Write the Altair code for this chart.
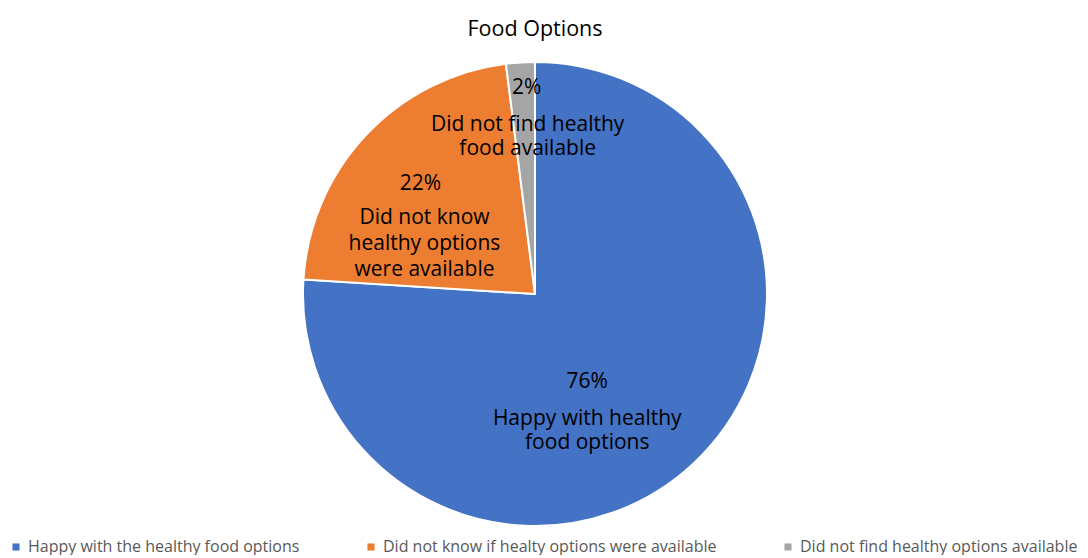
import altair as alt
import pandas as pd

categories = [
    "Happy with the healthy food options",
    "Did not know if healty options were available",
    "Did not find healthy options available",
]
values = [76, 22, 2]
pct_labels = ["76%", "22%", "2%"]
slice_labels = [
    ["Happy with healthy", "food options"],
    ["Did not know", "healthy options", "were available"],
    ["Did not find healthy", "food available"],
]
colors = ["#4472C4", "#ED7D31", "#A5A5A5"]

df = pd.DataFrame({
    "category": categories,
    "value": values,
    "pct": pct_labels,
    "label": slice_labels,
    "order": [0, 1, 2],
})

CX, CY, R = 527, 246, 232
FONT = "Open Sans"
THETA_SCALE = alt.Scale(domain=[0, 100])

base = alt.Chart(df).transform_window(
    end="sum(value)", sort=[alt.SortField("order")],
).transform_calculate(
    start="datum.end - datum.value",
    mid="datum.end - datum.value / 2",
)

pie = base.mark_arc(outerRadius=R, stroke="white", strokeWidth=2).encode(
    x=alt.value(CX), y=alt.value(CY),
    theta=alt.Theta("start:Q", scale=THETA_SCALE),
    theta2="end:Q",
    color=alt.Color(
        "category:N",
        scale=alt.Scale(domain=categories, range=colors),
        sort=categories,
        legend=alt.Legend(
            title=None, orient="none", direction="horizontal",
            legendX=0, legendY=491, padding=0,
            symbolType="square", symbolSize=50, symbolStrokeWidth=0,
            labelFont=FONT, labelFontSize=16, labelColor="#595959",
            columnPadding=63, labelLimit=500,
        ),
    ),
)

def layer(cat, r, dx_pct, dy_pct, dx_lab, dy_lab, lh):
    b = base.transform_filter(alt.datum.category == cat)
    p = b.mark_text(radius=r, font=FONT, fontSize=21, color="#000000",
                    dx=dx_pct, dy=dy_pct).encode(
        x=alt.value(CX), y=alt.value(CY),
        theta=alt.Theta("mid:Q", scale=THETA_SCALE), text="pct:N")
    t = b.mark_text(radius=r, font=FONT, fontSize=21, color="#000000",
                    dx=dx_lab, dy=dy_lab, lineHeight=lh, baseline="top").encode(
        x=alt.value(CX), y=alt.value(CY),
        theta=alt.Theta("mid:Q", scale=THETA_SCALE), text="label:N")
    return p + t

chart = alt.layer(
    pie,
    layer(categories[0], 126, -34, -4, -34, 22, 24),
    layer(categories[1], 131, -19, -20.5, -15, 3, 26),
    layer(categories[2], 180, 3, -26, 4, 0, 24),
).properties(
    width=1054, height=490,
    padding={"left": 0, "right": 0, "top": 10, "bottom": 0},
    title=alt.TitleParams("Food Options", font=FONT, fontSize=21.5,
                          fontWeight="normal", color="#000000", anchor="middle",
                          offset=8),
).configure_view(stroke=None)

chart.save("out.html", embed_options={"renderer": "svg", "actions": False})
